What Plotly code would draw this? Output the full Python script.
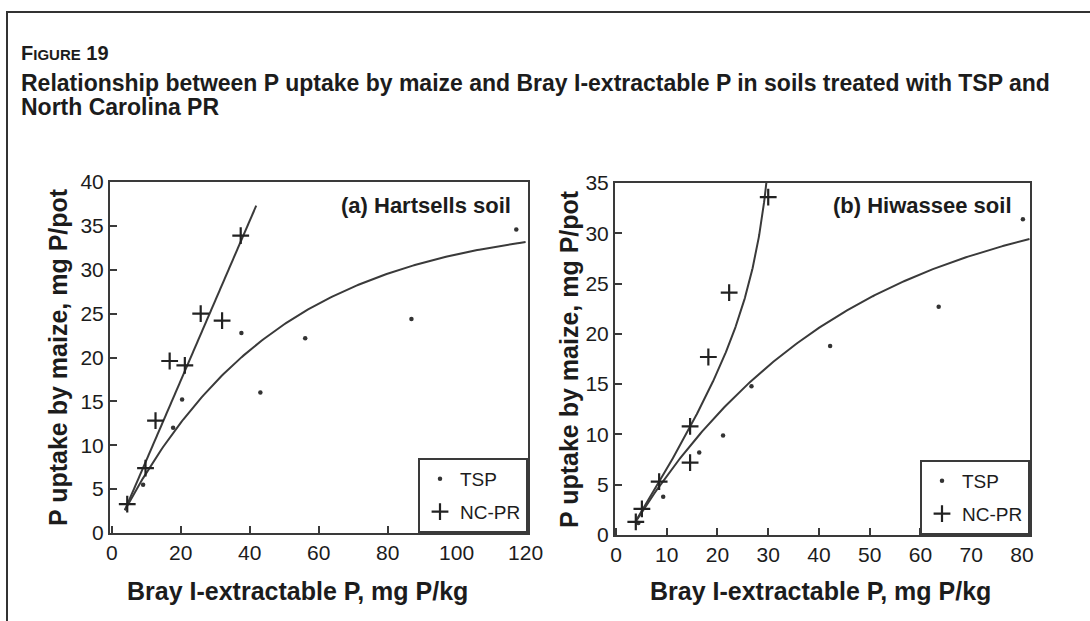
import numpy as np
import plotly.graph_objects as go

# ---------------- data ----------------
# Panel (a) Hartsells soil
a_tsp_x = [9.1, 17.8, 20.4, 37.6, 43.1, 56.1, 86.9, 117.3]
a_tsp_y = [5.5, 12.0, 15.2, 22.8, 16.0, 22.2, 24.4, 34.6]
a_ncpr_x = [4.5, 9.8, 12.7, 16.8, 21.2, 25.8, 32.0, 37.4]
a_ncpr_y = [3.3, 7.4, 12.8, 19.6, 19.1, 25.0, 24.2, 33.9]

# Panel (b) Hiwassee soil
b_tsp_x = [4.4, 9.3, 16.4, 21.1, 26.7, 42.2, 63.6, 80.2]
b_tsp_y = [1.2, 3.8, 8.2, 9.9, 14.8, 18.8, 22.7, 31.4]
b_ncpr_x = [3.9, 5.1, 8.5, 14.6, 14.6, 18.2, 22.3, 30.0]
b_ncpr_y = [1.3, 2.6, 5.3, 7.2, 10.8, 17.7, 24.1, 33.6]

# fitted response curves (parameters)
a_tsp_fit = [35.7, 36.0, 0.0221]          # y = A - B*exp(-k x)
a_tsp_fit_range = [3.8, 120.0]
a_ncpr_fit = [0.911, -0.86]               # y = m x + c
a_ncpr_fit_range = [3.8, 41.9]
b_tsp_fit = [34.64, 36.54, 0.0239]        # y = A - B*exp(-k x)
b_tsp_fit_range = [3.7, 81.5]
b_ncpr_fit = [-3.97, 0.75, 73.0, 34.0]    # y = a + b x + c/(x0 - x)
b_ncpr_fit_range = [3.7, 29.8]

a_xticks = [0, 20, 40, 60, 80, 100, 120]
a_yticks = [0, 5, 10, 15, 20, 25, 30, 35, 40]
b_xticks = [0, 10, 20, 30, 40, 50, 60, 70, 80]
b_yticks = [0, 5, 10, 15, 20, 25, 30, 35]

title_fig = "F<span style='font-size:15px'>IGURE</span> 19"
title_line1 = "Relationship between P uptake by maize and Bray I-extractable P in soils treated with TSP and"
title_line2 = "North Carolina PR"
xtitle = "Bray I-extractable P, mg P/kg"
ytitle = "P uptake by maize, mg P/pot"
label_a = "(a) Hartsells soil"
label_b = "(b) Hiwassee soil"
series_names = ["TSP", "NC-PR"]

# ---------------- layout helpers ----------------
W, H = 1090, 621
def PX(p):
    return p / W
def PY(p):
    return 1 - p / H

FONT = "'Liberation Sans', Arial, Helvetica, sans-serif"
INK = "#1c1c1c"
LINE = "#3a3a3a"

def mitscherlich(p, rng):
    x = np.linspace(rng[0], rng[1], 200)
    return x, p[0] - p[1] * np.exp(-p[2] * x)

def linear(p, rng):
    x = np.linspace(rng[0], rng[1], 50)
    return x, p[0] * x + p[1]

def hyper(p, rng):
    x = np.linspace(rng[0], rng[1], 300)
    return x, p[0] + p[1] * x + p[2] / (p[3] - x)

fig = go.Figure()

dot = dict(symbol="circle", size=4.5, color="#333333")
plus = dict(symbol="cross-thin", size=12, color="#222222", line=dict(width=2.2, color="#222222"))

# panel (a)
fx, fy = mitscherlich(a_tsp_fit, a_tsp_fit_range)
fig.add_trace(go.Scatter(x=fx, y=fy, mode="lines", line=dict(color=LINE, width=2),
                         showlegend=False, xaxis="x", yaxis="y", hoverinfo="skip"))
fx, fy = linear(a_ncpr_fit, a_ncpr_fit_range)
fig.add_trace(go.Scatter(x=fx, y=fy, mode="lines", line=dict(color=LINE, width=2),
                         showlegend=False, xaxis="x", yaxis="y", hoverinfo="skip"))
fig.add_trace(go.Scatter(x=a_tsp_x, y=a_tsp_y, mode="markers", marker=dot, name=series_names[0],
                         xaxis="x", yaxis="y", legend="legend", legendgroup="a1"))
fig.add_trace(go.Scatter(x=a_ncpr_x, y=a_ncpr_y, mode="markers", marker=plus, name=series_names[1],
                         xaxis="x", yaxis="y", legend="legend", legendgroup="a2"))

# panel (b)
fx, fy = mitscherlich(b_tsp_fit, b_tsp_fit_range)
fig.add_trace(go.Scatter(x=fx, y=fy, mode="lines", line=dict(color=LINE, width=2),
                         showlegend=False, xaxis="x2", yaxis="y2", hoverinfo="skip"))
fx, fy = hyper(b_ncpr_fit, b_ncpr_fit_range)
fig.add_trace(go.Scatter(x=fx, y=fy, mode="lines", line=dict(color=LINE, width=2),
                         showlegend=False, xaxis="x2", yaxis="y2", hoverinfo="skip"))
fig.add_trace(go.Scatter(x=b_tsp_x, y=b_tsp_y, mode="markers", marker=dot, name=series_names[0],
                         xaxis="x2", yaxis="y2", legend="legend2", legendgroup="b1"))
fig.add_trace(go.Scatter(x=b_ncpr_x, y=b_ncpr_y, mode="markers", marker=plus, name=series_names[1],
                         xaxis="x2", yaxis="y2", legend="legend2", legendgroup="b2"))

axis_common = dict(showline=True, mirror=True, linecolor=LINE, linewidth=2,
                   ticks="inside", ticklen=7, tickwidth=1.5, tickcolor=LINE,
                   showgrid=False, zeroline=False, automargin=False,
                   tickfont=dict(family=FONT, size=21, color=INK))

legend_common = dict(bgcolor="white", bordercolor=LINE, borderwidth=2,
                     font=dict(family=FONT, size=19, color=INK),
                     xanchor="right", yanchor="bottom", itemwidth=30,
                     tracegroupgap=5)

fig.update_layout(
    width=W, height=H,
    margin=dict(l=0, r=0, t=0, b=0, autoexpand=False),
    paper_bgcolor="white", plot_bgcolor="white",
    xaxis=dict(domain=[PX(110), PX(528)], range=[-0.5, 120.7], tickvals=a_xticks,
               anchor="y", **axis_common),
    yaxis=dict(domain=[PY(533), PY(182)], range=[0, 40], tickvals=a_yticks,
               anchor="x", **axis_common),
    xaxis2=dict(domain=[PX(615), PX(1030)], range=[-0.2, 81.6], tickvals=b_xticks,
                anchor="y2", **axis_common),
    yaxis2=dict(domain=[PY(535), PY(183)], range=[0, 35], tickvals=b_yticks,
                anchor="x2", **axis_common),
    legend=dict(x=PX(528), y=PY(533), **legend_common),
    legend2=dict(x=PX(1030), y=PY(535), **legend_common),
    showlegend=True,
)

ann = []
ann.append(dict(text=title_fig, x=PX(19), y=PY(53), xanchor="left", yanchor="middle",
                font=dict(family=FONT, size=20, color=INK, weight="bold")))
ann.append(dict(text=title_line1, x=PX(19), y=PY(83), xanchor="left", yanchor="middle",
                font=dict(family=FONT, size=23, color=INK, weight="bold")))
ann.append(dict(text=title_line2, x=PX(19), y=PY(107), xanchor="left", yanchor="middle",
                font=dict(family=FONT, size=23, color=INK, weight="bold")))
for cx, cy in [(297, 591), (820, 591)]:
    ann.append(dict(text=xtitle, x=PX(cx), y=PY(cy), xanchor="center", yanchor="middle",
                    font=dict(family=FONT, size=25, color=INK, weight="bold")))
for cx, cy in [(58, 357), (569, 359)]:
    ann.append(dict(text=ytitle, x=PX(cx), y=PY(cy), xanchor="center", yanchor="middle",
                    textangle=-90, font=dict(family=FONT, size=25, color=INK, weight="bold")))
ann.append(dict(text=label_a, x=PX(513), y=PY(205), xanchor="right", yanchor="middle",
                font=dict(family=FONT, size=22, color=INK, weight="bold")))
ann.append(dict(text=label_b, x=PX(1014), y=PY(206), xanchor="right", yanchor="middle",
                font=dict(family=FONT, size=22, color=INK, weight="bold")))
for a in ann:
    a.update(xref="paper", yref="paper", showarrow=False)
fig.update_layout(annotations=ann)

# outer figure frame
fig.add_shape(type="rect", xref="paper", yref="paper",
              x0=PX(7), x1=1.2, y0=-0.2, y1=PY(12),
              line=dict(color="#333333", width=2), fillcolor="rgba(0,0,0,0)", layer="below")

fig.write_html("out.html",
               config={"displayModeBar": False},
               post_script="document.body.style.margin='0px';document.body.style.overflow='hidden';")
